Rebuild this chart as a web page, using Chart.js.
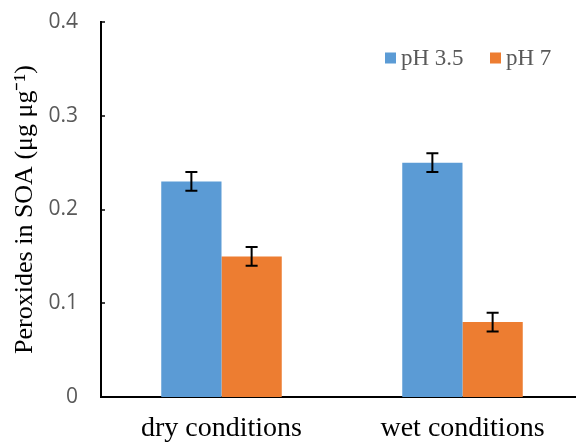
<!DOCTYPE html>
<html>
<head>
<meta charset="utf-8">
<script src="https://cdn.jsdelivr.net/npm/chart.js@4/dist/chart.umd.min.js"></script>
<style>
  html, body { margin: 0; padding: 0; background: #ffffff; }
  #wrap { width: 576px; height: 446px; position: relative; }
</style>
</head>
<body>
<div id="wrap"><canvas id="c" width="576" height="446"></canvas></div>
<script>
const categories = ["dry conditions", "wet conditions"];
const seriesNames = ["pH 3.5", "pH 7"];
const ph35 = [0.23, 0.25];
const ph7 = [0.15, 0.08];
const ph35Err = [0.01, 0.01];
const ph7Err = [0.01, 0.01];
const yTicks = [0, 0.1, 0.2, 0.3, 0.4];

const SERIF = '"Liberation Serif", "Times New Roman", serif';

const errorBars = {
  id: 'errorBars',
  afterDatasetsDraw(chart) {
    const ctx = chart.ctx;
    const y = chart.scales.y;
    const errs = [ph35Err, ph7Err];
    chart.data.datasets.forEach((ds, di) => {
      const meta = chart.getDatasetMeta(di);
      meta.data.forEach((bar, i) => {
        const v = ds.data[i], e = errs[di][i];
        const yt = y.getPixelForValue(v + e), yb = y.getPixelForValue(v - e);
        const x = bar.x;
        ctx.save();
        ctx.strokeStyle = '#000';
        ctx.lineWidth = 2;
        ctx.beginPath();
        ctx.moveTo(x, yt); ctx.lineTo(x, yb);
        ctx.moveTo(x - 6, yt); ctx.lineTo(x + 6, yt);
        ctx.moveTo(x - 6, yb); ctx.lineTo(x + 6, yb);
        ctx.stroke();
        ctx.restore();
      });
    });
  }
};

const innerTicks = {
  id: 'innerTicks',
  afterDraw(chart) {
    const ctx = chart.ctx;
    const y = chart.scales.y;
    const left = chart.chartArea.left;
    ctx.save();
    ctx.strokeStyle = '#000';
    ctx.lineWidth = 1.5;
    yTicks.forEach(t => {
      if (t === 0) return;
      const py = Math.round(y.getPixelForValue(t));
      ctx.beginPath();
      ctx.moveTo(left, py); ctx.lineTo(left + 4, py);
      ctx.stroke();
    });
    ctx.restore();
  }
};

// plot area continues slightly past the right edge of the picture
const extendRight = {
  id: 'extendRight',
  afterLayout(chart) {
    const x = chart.scales.x;
    const extra = 7;
    x.right += extra;
    x.width += extra;
    x.configure();
    chart.chartArea.right += extra;
    chart.chartArea.width += extra;
  }
};

const customLegend = {
  id: 'customLegend',
  afterDraw(chart) {
    const ctx = chart.ctx;
    const starts = [385, 490];
    const cy = 58;
    ctx.save();
    ctx.font = '23px ' + SERIF;
    ctx.textBaseline = 'middle';
    ctx.textAlign = 'left';
    chart.data.datasets.forEach((ds, i) => {
      const x = starts[i];
      ctx.fillStyle = ds.backgroundColor;
      ctx.fillRect(x, cy - 5.5, 11, 11);
      ctx.fillStyle = '#595959';
      ctx.fillText(ds.label, x + 16, cy + 1);
    });
    ctx.restore();
  }
};

new Chart(document.getElementById('c'), {
  type: 'bar',
  data: {
    labels: categories,
    datasets: [
      { label: seriesNames[0], data: ph35, backgroundColor: '#5B9BD5', borderWidth: 0 },
      { label: seriesNames[1], data: ph7, backgroundColor: '#ED7D31', borderWidth: 0 }
    ]
  },
  options: {
    responsive: false,
    animation: false,
    devicePixelRatio: 1,
    layout: { padding: { top: 22, right: 0, left: 0, bottom: 0 } },
    datasets: { bar: { categoryPercentage: 0.5, barPercentage: 1.0 } },
    plugins: {
      tooltip: { enabled: false },
      legend: { display: false }
    },
    scales: {
      x: {
        afterFit(scale) { scale.height = 49; scale.paddingLeft = 0; scale.paddingRight = 0; },
        grid: { display: false, drawTicks: false },
        border: { display: true, color: '#000', width: 2 },
        ticks: {
          color: '#000', padding: 15,
          font: { family: SERIF, size: 28 }
        }
      },
      y: {
        min: 0, max: 0.4,
        afterFit(scale) { scale.width = 101; scale.paddingTop = 0; scale.paddingBottom = 0; },
        afterBuildTicks(scale) { scale.ticks = yTicks.map(v => ({ value: v })); },
        grid: { display: false, drawTicks: false },
        border: { display: true, color: '#000', width: 2 },
        ticks: {
          color: '#595959', padding: 23,
          font: { family: '"Open Sans", "Liberation Sans", sans-serif', size: 21 },
          callback: v => String(v)
        },
        title: {
          display: true,
          text: 'Peroxides in SOA (μg μg⁻¹)',
          color: '#000',
          padding: { top: 10, bottom: 0 },
          font: { family: SERIF, size: 26 }
        }
      }
    }
  },
  plugins: [extendRight, errorBars, innerTicks, customLegend]
});
</script>
</body>
</html>
